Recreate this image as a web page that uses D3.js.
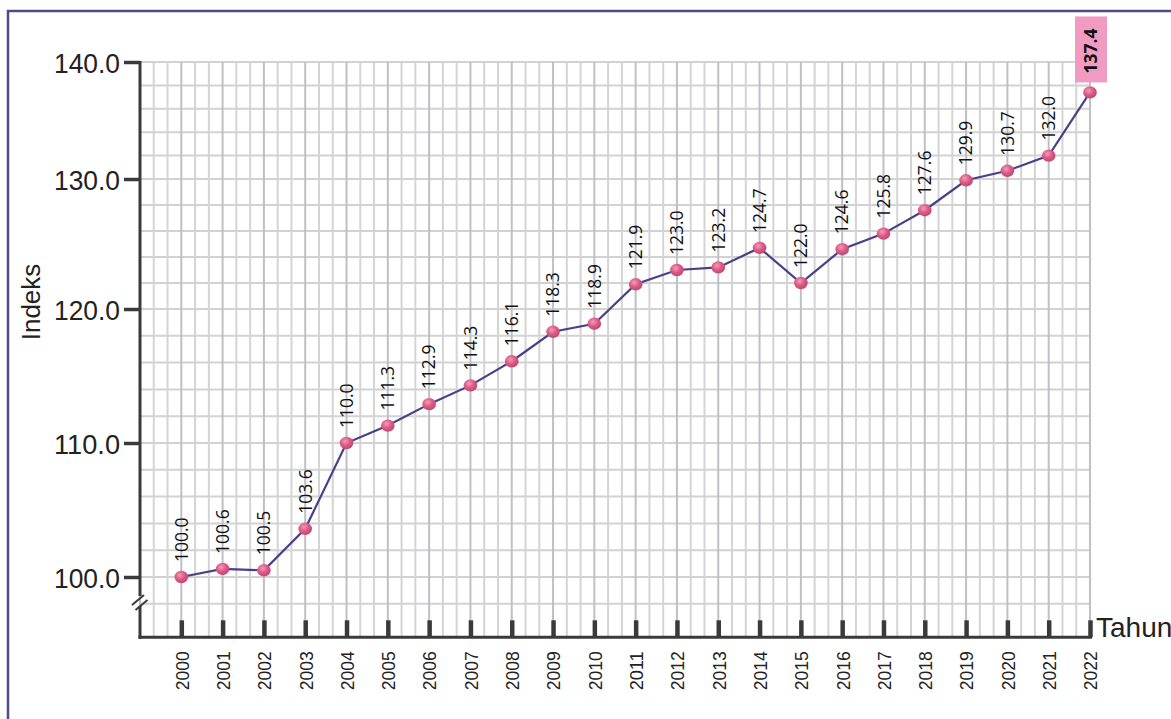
<!DOCTYPE html>
<html>
<head>
<meta charset="utf-8">
<script src="https://cdn.jsdelivr.net/npm/d3@7"></script>
<style>
  html, body { margin: 0; padding: 0; background: #ffffff; }
  svg { display: block; }
</style>
</head>
<body>
<svg id="chart" width="1171" height="719"></svg>
<script>
// ---- data ----
const years = [2000, 2001, 2002, 2003, 2004, 2005, 2006, 2007, 2008, 2009, 2010, 2011,
               2012, 2013, 2014, 2015, 2016, 2017, 2018, 2019, 2020, 2021, 2022];
const values = [100.0, 100.6, 100.5, 103.6, 110.0, 111.3, 112.9, 114.3, 116.1, 118.3, 118.9, 121.9,
                123.0, 123.2, 124.7, 122.0, 124.6, 125.8, 127.6, 129.9, 130.7, 132.0, 137.4];
const yTickValues = [100, 110, 120, 130, 140];
const highlightYear = 2022;
const yAxisTitle = "Indeks";
const xAxisTitle = "Tahun";

// ---- layout ----
const svg = d3.select("#chart");

const x = d3.scaleLinear().domain([1999, 2022]).range([140, 1090]);
// piecewise axis (the original axis is not uniformly spaced)
const y = d3.scaleLinear().domain([100, 110, 120, 130, 140]).range([577, 443, 309, 179, 62]);
const axisBase = y(95.5);

// frame
svg.append("rect")
  .attr("x", 8).attr("y", 11).attr("width", 1300).attr("height", 900)
  .attr("fill", "#ffffff").attr("stroke", "#4f4a8c").attr("stroke-width", 2.5);

// defs gradient for markers
const defs = svg.append("defs");
const grad = defs.append("radialGradient").attr("id", "dotGrad")
  .attr("cx", "40%").attr("cy", "35%").attr("r", "65%");
grad.append("stop").attr("offset", "0%").attr("stop-color", "#f39bb8");
grad.append("stop").attr("offset", "55%").attr("stop-color", "#db5a85");
grad.append("stop").attr("offset", "100%").attr("stop-color", "#c24672");

// ---- grid ----
const grid = svg.append("g");
const hVals = d3.range(98, 140.01, 2);
grid.selectAll("line.h").data(hVals).enter().append("line")
  .attr("x1", x(1999)).attr("x2", x(2022))
  .attr("y1", d => y(d)).attr("y2", d => y(d))
  .attr("stroke", "#d2d2d2").attr("stroke-width", 2);
const vVals = d3.range(0, 23 * 3 + 1).map(i => 1999 + i / 3);
grid.selectAll("line.v").data(vVals).enter().append("line")
  .attr("x1", d => x(d)).attr("x2", d => x(d))
  .attr("y1", y(140)).attr("y2", axisBase)
  .attr("stroke", (d, i) => (i % 3 === 0 ? "#c0bfc8" : "#d4d4d4"))
  .attr("stroke-width", 2);

// ---- y axis ----
const yAxis = d3.axisLeft(y).tickValues(yTickValues).tickSize(16).tickPadding(4)
  .tickFormat(d3.format(".1f"));
const gy = svg.append("g").attr("transform", `translate(${x(1999)},0)`).call(yAxis);
gy.select(".domain").remove();
gy.selectAll(".tick line").attr("stroke", "#3a3a3a").attr("stroke-width", 3.5);
gy.selectAll(".tick text")
  .attr("fill", "#222").attr("font-family", "'Liberation Sans', Arial, sans-serif")
  .attr("font-size", 28).attr("dy", "0.36em")
  .attr("textLength", 66).attr("lengthAdjust", "spacingAndGlyphs");

const axisColor = "#3a3a3a";
svg.append("line").attr("x1", x(1999)).attr("x2", x(1999))
  .attr("y1", y(140) - 1).attr("y2", 596)
  .attr("stroke", axisColor).attr("stroke-width", 3);
svg.append("line").attr("x1", x(1999)).attr("x2", x(1999))
  .attr("y1", 606).attr("y2", axisBase + 1.5)
  .attr("stroke", axisColor).attr("stroke-width", 3);
svg.append("line").attr("x1", 132).attr("y1", 605).attr("x2", 144).attr("y2", 595)
  .attr("stroke", axisColor).attr("stroke-width", 2);
svg.append("line").attr("x1", 135.5).attr("y1", 610).attr("x2", 147.5).attr("y2", 600)
  .attr("stroke", axisColor).attr("stroke-width", 2);

// ---- x axis ----
const xAxis = d3.axisBottom(x).tickValues(years).tickSizeInner(-17).tickSizeOuter(0)
  .tickFormat(d3.format("d"));
const gx = svg.append("g").attr("transform", `translate(0,${axisBase})`).call(xAxis);
gx.select(".domain").remove();
gx.selectAll(".tick line").attr("stroke", axisColor).attr("stroke-width", 4.5);
gx.selectAll(".tick text")
  .attr("fill", "#222").attr("font-family", "'Liberation Sans', Arial, sans-serif")
  .attr("font-size", 19)
  .attr("transform", "rotate(-90)")
  .attr("text-anchor", "end")
  .attr("x", -14).attr("y", 0).attr("dy", "0.36em")
  .attr("textLength", 39).attr("lengthAdjust", "spacingAndGlyphs");
svg.append("line").attr("x1", x(1999) - 1.5).attr("x2", x(2022) + 2)
  .attr("y1", axisBase).attr("y2", axisBase)
  .attr("stroke", axisColor).attr("stroke-width", 3);

// axis titles
svg.append("text").text(yAxisTitle)
  .attr("transform", `translate(40,${302}) rotate(-90)`)
  .attr("text-anchor", "middle")
  .attr("font-family", "'Liberation Sans', Arial, sans-serif")
  .attr("font-size", 26).attr("fill", "#222");
svg.append("text").text(xAxisTitle)
  .attr("x", 1096).attr("y", 637)
  .attr("font-family", "'Liberation Sans', Arial, sans-serif")
  .attr("font-size", 28).attr("fill", "#222");

// ---- line ----
const pts = years.map((yr, i) => ({ year: yr, value: values[i] }));
const line = d3.line().x(d => x(d.year)).y(d => y(d.value));
svg.append("path").datum(pts).attr("d", line)
  .attr("fill", "none").attr("stroke", "#4a3f88").attr("stroke-width", 2.2);

svg.selectAll("ellipse.dot").data(pts).enter().append("ellipse")
  .attr("cx", d => x(d.year)).attr("cy", d => y(d.value)).attr("rx", 6.8).attr("ry", 6.2)
  .attr("fill", "url(#dotGrad)");

// ---- value labels ----
const labelFont = "'Open Sans', 'Noto Sans', sans-serif";
const normal = pts.filter(d => d.year !== highlightYear);
svg.selectAll("text.val").data(normal).enter().append("text")
  .attr("transform", d => `translate(${x(d.year)},${y(d.value) - 15}) rotate(-90)`)
  .attr("dy", "0.36em")
  .attr("font-family", labelFont)
  .attr("font-size", 17.5).attr("fill", "#111")
  .text(d => d3.format(".1f")(d.value));

const hl = pts.filter(d => d.year === highlightYear);
const hg = svg.selectAll("g.hl").data(hl).enter().append("g")
  .attr("transform", d => `translate(${x(d.year)},${y(d.value)})`);
hg.append("rect").attr("x", -15).attr("y", -76).attr("width", 32).attr("height", 66)
  .attr("fill", "#f29bc2");
hg.append("text")
  .attr("transform", "translate(1,-19) rotate(-90)")
  .attr("dy", "0.36em")
  .attr("font-family", labelFont)
  .attr("font-weight", "bold")
  .attr("font-size", 17.5).attr("fill", "#111")
  .text(d => d3.format(".1f")(d.value));
</script>
</body>
</html>
